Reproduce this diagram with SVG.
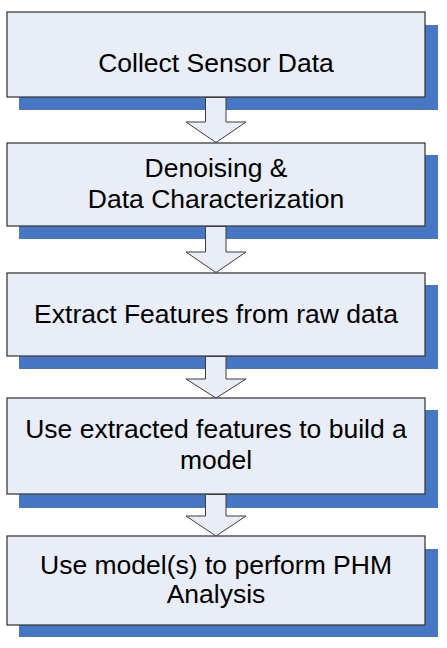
<svg xmlns="http://www.w3.org/2000/svg" width="447" height="648" viewBox="0 0 447 648">
<style>
.sh{fill:#4777C4}
.bx{fill:#E8EDF7;stroke:#3C3C3C;stroke-width:1.3}
.ar{fill:#E8EDF7;stroke:#3C3C3C;stroke-width:1}
.t{font-family:"Liberation Sans",Arial,sans-serif;font-size:26.5px;fill:#000;text-anchor:middle}
</style>
<rect width="447" height="648" fill="#fff"/>
<g id="node1">
<rect class="sh" x="19" y="25" width="419" height="85"/>
<rect class="bx" x="7" y="12" width="418" height="85"/>
<text class="t" x="216" y="72">Collect Sensor Data</text>
</g>
<g id="node2">
<rect class="sh" x="19" y="155" width="419" height="84"/>
<rect class="bx" x="7" y="143" width="418" height="83"/>
<text class="t" x="216" y="177">Denoising &amp;</text>
<text class="t" x="216" y="208">Data Characterization</text>
</g>
<g id="node3">
<rect class="sh" x="19" y="285" width="419" height="84"/>
<rect class="bx" x="7" y="273" width="418" height="83"/>
<text class="t" x="216" y="323">Extract Features from raw data</text>
</g>
<g id="node4">
<rect class="sh" x="19" y="410" width="419" height="98"/>
<rect class="bx" x="7" y="398" width="418" height="96"/>
<text class="t" x="216" y="438">Use extracted features to build a</text>
<text class="t" x="216" y="469">model</text>
</g>
<g id="node5">
<rect class="sh" x="19" y="549" width="419" height="88"/>
<rect class="bx" x="7" y="536" width="418" height="89"/>
<text class="t" x="216" y="574">Use model(s) to perform PHM</text>
<text class="t" x="216" y="603">Analysis</text>
</g>
<g id="connectors">
<polygon class="ar" points="205.5,97.5 226,97.5 226,122 246,122 216,142.5 186,122 205.5,122"/>
<polygon class="ar" points="205.5,226.5 226,226.5 226,252 246,252 216,272.5 186,252 205.5,252"/>
<polygon class="ar" points="205.5,356.5 226,356.5 226,379 246,379 216,398 186,379 205.5,379"/>
<polygon class="ar" points="205.5,494.5 226,494.5 226,516 246,516 216,536 186,516 205.5,516"/>
</g>
</svg>
